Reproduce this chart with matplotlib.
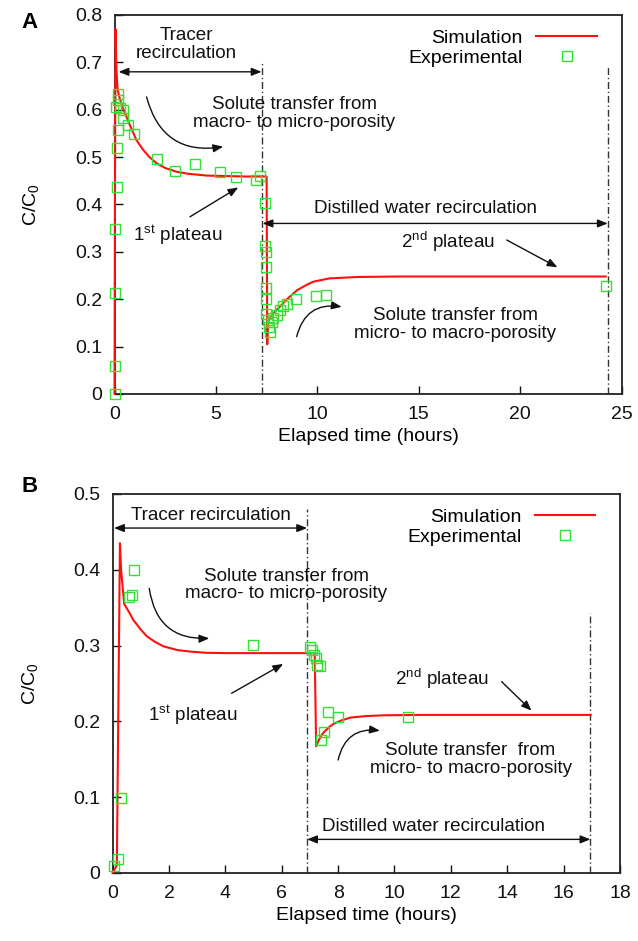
import numpy as np
import matplotlib
matplotlib.use('Agg')
import matplotlib.pyplot as plt

plt.rcParams['font.family'] = ['Liberation Sans', 'DejaVu Sans']
plt.rcParams['mathtext.fontset'] = 'custom'
plt.rcParams['mathtext.rm'] = 'Liberation Sans'
plt.rcParams['mathtext.it'] = 'Liberation Sans:italic'

# ---- panel A data (hours, C/C0) ----
simA_t = [0, 0.02, 0.05, 0.09, 0.15, 0.25, 0.4, 0.59, 0.8, 1.08, 1.4, 1.7, 2.07, 2.5, 3.06,
          3.6, 4.54, 5.5, 6.5, 7.5, 7.53, 7.56, 7.65, 7.8, 8.0, 8.15, 8.5, 9.0, 9.5,
          9.8, 10.6, 12.0, 14.0, 17.0, 20.0, 24.22]
simA_c = [0, 0.40, 0.77, 0.69, 0.643, 0.625, 0.605, 0.585, 0.563, 0.536, 0.516, 0.501, 0.487,
          0.477, 0.469, 0.465, 0.461, 0.46, 0.459, 0.459, 0.105, 0.15, 0.16, 0.168, 0.178, 0.184,
          0.200, 0.219, 0.231, 0.237, 0.244, 0.247, 0.248, 0.248, 0.248, 0.248]

expA_t = [0.0, 0.02, 0.0, 0.0, 0.1, 0.1, 0.15, 0.15, 0.18, 0.06, 0.26, 0.43, 0.43, 0.67, 0.97,
          2.07, 3.0, 3.98, 5.2, 5.97, 6.96, 7.17, 7.42, 7.42, 7.45, 7.45, 7.47, 7.47, 7.47,
          7.55, 7.63, 7.66, 7.75, 7.83, 7.99, 8.15, 8.32, 8.48, 8.94, 9.93, 10.42, 24.22]
expA_c = [0.0, 0.06, 0.2125, 0.348, 0.4375, 0.52, 0.557, 0.633, 0.62, 0.606, 0.603, 0.60, 0.582,
          0.568, 0.548, 0.495, 0.471, 0.486, 0.469, 0.458, 0.451, 0.46, 0.4025, 0.313, 0.300,
          0.267, 0.223, 0.200, 0.169, 0.156, 0.142, 0.131, 0.153, 0.160, 0.167, 0.177, 0.186,
          0.191, 0.200, 0.207, 0.21, 0.228]

# ---- panel B data ----
simB_t = [0, 0.15, 0.26, 0.30, 0.41, 0.6, 0.73, 1.0, 1.22, 1.5, 1.8, 2.3, 2.77, 3.3, 4.0, 5.0,
          6.0, 7.17, 7.22, 7.3, 7.4, 7.5, 7.7, 7.85, 8.1, 8.44, 9.0, 9.64, 11.0, 13.0, 15.0, 16.96]
simB_c = [0, 0.01, 0.435, 0.40, 0.355, 0.343, 0.334, 0.321, 0.312, 0.305, 0.299, 0.294, 0.292,
          0.2905, 0.290, 0.290, 0.290, 0.290, 0.167, 0.174, 0.181, 0.186, 0.193, 0.197, 0.201,
          0.205, 0.207, 0.208, 0.2085, 0.2085, 0.2085, 0.2085]

expB_t = [0.05, 0.2, 0.30, 0.59, 0.68, 0.77, 4.99, 7.0, 7.06, 7.14, 7.21, 7.24, 7.35, 7.41,
          7.51, 7.65, 8.0, 10.47]
expB_c = [0.0096, 0.018, 0.0985, 0.364, 0.367, 0.40, 0.301, 0.298, 0.294, 0.287, 0.283, 0.274,
          0.273, 0.175, 0.186, 0.212, 0.206, 0.206]

RED = '#ff1010'
GREEN = '#33e033'
FS = 14
AFS = 13.6
dashdot = (0, (5, 2, 1, 2))


def style(ax, xlim, ylim, xticks, xlabels, yticks, ylabels):
    ax.set_xlim(xlim)
    ax.set_ylim(ylim)
    ax.set_xticks(xticks)
    ax.set_xticklabels(xlabels)
    ax.set_yticks(yticks)
    ax.set_yticklabels(ylabels)
    ax.tick_params(direction='in', length=6, width=1, pad=9, labelsize=FS,
                   top=False, right=False, colors='#111111')
    for s in ax.spines.values():
        s.set_linewidth(1.3)
        s.set_color('#222222')
    ax.set_xlabel('Elapsed time (hours)', fontsize=FS, labelpad=3)
    ax.set_ylabel('C/C$_0$', fontsize=FS, labelpad=24)


def draw(ax, st, sc, et, ec):
    ax.plot(st, sc, color=RED, lw=1.5, label='Simulation', clip_on=False, zorder=3)
    ax.plot(et, ec, linestyle='none', marker='s', ms=7.5, mfc='none', mec=GREEN,
            mew=1.0, label='Experimental', clip_on=False, zorder=4)
    ax.legend(loc='upper right', bbox_to_anchor=(0.951, 0.962), frameon=False,
              markerfirst=False, fontsize=FS, handlelength=3.1, handletextpad=0.7,
              labelspacing=0.1, borderpad=0, borderaxespad=0, numpoints=1)


def harrow(ax, x0, x1, y, style='<|-|>'):
    ax.annotate('', xy=(x1, y), xytext=(x0, y),
                arrowprops=dict(arrowstyle=style + ',head_length=0.5,head_width=0.2',
                                color='#111111', lw=1.0, mutation_scale=12,
                                shrinkA=0, shrinkB=0))


def arrow(ax, x0, y0, x1, y1, rad=0.0):
    ax.annotate('', xy=(x1, y1), xytext=(x0, y0),
                arrowprops=dict(arrowstyle='-|>,head_length=0.5,head_width=0.2',
                                color='#111111', lw=1.0, mutation_scale=12,
                                shrinkA=0, shrinkB=0,
                                connectionstyle='arc3,rad=%s' % rad))


def label(ax, x, y, s):
    ax.text(x, y, s, fontsize=AFS, ha='center', va='center', linespacing=1.05,
            color='#111111')


fig = plt.figure(figsize=(6.38, 9.41), dpi=100)

# ---------------- panel A ----------------
axA = fig.add_axes([0.1795, 0.5813, 0.7947, 0.4028])
style(axA, (0, 25), (0, 0.8), [0, 5, 10, 15, 20, 25], ['0', '5', '10', '15', '20', '25'],
      np.arange(0, 0.81, 0.1), ['0', '0.1', '0.2', '0.3', '0.4', '0.5', '0.6', '0.7', '0.8'])
axA.plot([7.25, 7.25], [0, 0.70], color='#333333', lw=1.0, ls=dashdot, zorder=2)
axA.plot([24.32, 24.32], [0, 0.695], color='#333333', lw=1.0, ls=dashdot, zorder=2)
draw(axA, simA_t, simA_c, expA_t, expA_c)

harrow(axA, 0.2, 7.25, 0.68)
label(axA, 3.55, 0.738, 'Tracer\nrecirculation')
label(axA, 8.85, 0.5925, 'Solute transfer from\nmacro- to micro-porosity')
arrow(axA, 1.58, 0.627, 5.36, 0.522, rad=0.45)
label(axA, 3.12, 0.336, '1$^{\\rm st}$ plateau')
arrow(axA, 3.72, 0.374, 6.1, 0.436)
harrow(axA, 7.3, 24.32, 0.360)
label(axA, 15.33, 0.392, 'Distilled water recirculation')
label(axA, 16.43, 0.3215, '2$^{\\rm nd}$ plateau')
arrow(axA, 19.34, 0.325, 21.84, 0.2674)
label(axA, 16.81, 0.147, 'Solute transfer from\nmicro- to macro-porosity')
arrow(axA, 8.98, 0.121, 11.2, 0.184, rad=-0.45)

fig.text(30 / 638, 1 - 22 / 941, 'A', fontsize=16, fontweight='bold', ha='center', va='center')

# ---------------- panel B ----------------
axB = fig.add_axes([0.1765, 0.0723, 0.7953, 0.4028])
style(axB, (0, 18), (0, 0.5), np.arange(0, 19, 2), [str(v) for v in range(0, 19, 2)],
      np.arange(0, 0.51, 0.1), ['0', '0.1', '0.2', '0.3', '0.4', '0.5'])
axB.plot([6.9, 6.9], [0, 0.48], color='#333333', lw=1.0, ls=dashdot, zorder=2)
axB.plot([16.95, 16.95], [0, 0.3425], color='#333333', lw=1.0, ls=dashdot, zorder=2)
draw(axB, simB_t, simB_c, expB_t, expB_c)

harrow(axB, 0.05, 6.9, 0.455)
label(axB, 3.48, 0.472, 'Tracer recirculation')
label(axB, 6.17, 0.38, 'Solute transfer from\nmacro- to micro-porosity')
arrow(axB, 1.30, 0.3755, 3.43, 0.3095, rad=0.45)
label(axB, 2.83, 0.208, '1$^{\\rm st}$ plateau')
arrow(axB, 4.22, 0.237, 6.05, 0.2757)
label(axB, 11.7, 0.256, '2$^{\\rm nd}$ plateau')
arrow(axB, 13.8, 0.2524, 14.86, 0.2141)
label(axB, 12.7, 0.150, 'Solute transfer  from\nmicro- to macro-porosity')
arrow(axB, 8.0, 0.149, 9.48, 0.1877, rad=-0.45)
harrow(axB, 6.9, 16.95, 0.0443)
label(axB, 11.39, 0.061, 'Distilled water recirculation')

fig.text(30 / 638, 1 - 487 / 941, 'B', fontsize=16, fontweight='bold', ha='center', va='center')

fig.savefig('out.png', dpi=100)
